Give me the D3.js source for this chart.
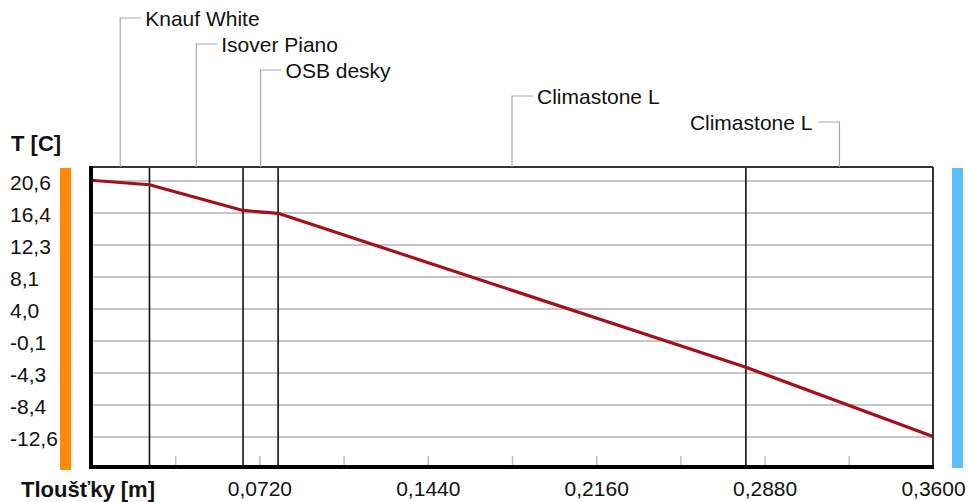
<!DOCTYPE html>
<html>
<head>
<meta charset="utf-8">
<script src="https://cdn.jsdelivr.net/npm/d3@7"></script>
<style>
  html, body { margin: 0; padding: 0; background: #fff; }
  svg { display: block; }
  text { font-family: "Liberation Sans", Arial, sans-serif; fill: #111; }
</style>
</head>
<body>
<svg id="chart" width="968" height="502"></svg>
<script>
// Wall layers (interior -> exterior) and their thicknesses in metres
const layerNames = ["Knauf White", "Isover Piano", "OSB desky", "Climastone L", "Climastone L"];
const layerThickness = [0.025, 0.04, 0.015, 0.2, 0.08];
// Temperature at each layer boundary [C]
const boundaryTemps = [20.63, 20.05, 16.72, 16.35, -3.62, -12.58];

// Axis ticks
const yTickValues = [20.6, 16.45, 12.3, 8.15, 4.0, -0.15, -4.3, -8.45, -12.6];
const yTickLabels = ["20,6", "16,4", "12,3", "8,1", "4,0", "-0,1", "-4,3", "-8,4", "-12,6"];
const xTickValues = [0.072, 0.144, 0.216, 0.288, 0.36];
const xTickLabels = ["0,0720", "0,1440", "0,2160", "0,2880", "0,3600"];
const xMinorTicks = [0.036, 0.072, 0.108, 0.144, 0.18, 0.216, 0.252, 0.288, 0.324];

// Which side of its leader line each caption sits on
const captionSide = ["right", "right", "right", "right", "left"];

const svg = d3.select("#chart");
const L = 91, R = 933, T = 167, B = 467;

const x = d3.scaleLinear().domain([0, 0.36]).range([L, R]);
const y = d3.scaleLinear().domain([-16.54, 22.35]).range([B, T]);

// boundaries in metres
const bounds = [0];
layerThickness.forEach(t => bounds.push(+(bounds[bounds.length - 1] + t).toFixed(4)));

// side colour bars (interior warm / exterior cold)
svg.append("rect").attr("x", 60).attr("y", 168).attr("width", 11).attr("height", 302).attr("fill", "#ff8a05");
svg.append("rect").attr("x", 952).attr("y", 168).attr("width", 11).attr("height", 300).attr("fill", "#5cbdf7");

// horizontal grid
const grid = svg.append("g").attr("transform", `translate(${L},0)`)
  .call(d3.axisRight(y).tickValues(yTickValues).tickSize(R - L).tickFormat(""));
grid.select(".domain").remove();
grid.selectAll("line").attr("stroke", "#c6c6c6").attr("stroke-width", 2);

// minor x ticks inside the bottom of the plot
const minor = svg.append("g").attr("transform", `translate(0,${B})`)
  .call(d3.axisTop(x).tickValues(xMinorTicks).tickSize(11).tickFormat(""));
minor.select(".domain").remove();
minor.selectAll("line").attr("stroke", "#bdbdbd").attr("stroke-width", 1.5);

// layer boundaries
svg.append("g").selectAll("line").data(bounds.slice(1, -1)).join("line")
  .attr("x1", d => x(d)).attr("x2", d => x(d))
  .attr("y1", T).attr("y2", B)
  .attr("stroke", "#111").attr("stroke-width", 1.6);

// temperature profile
const profile = bounds.map((b, i) => [b, boundaryTemps[i]]);
svg.append("path").datum(profile)
  .attr("fill", "none").attr("stroke", "#a40f1b").attr("stroke-width", 3.2)
  .attr("stroke-linejoin", "round")
  .attr("d", d3.line().x(d => x(d[0])).y(d => y(d[1])));

// frame
svg.append("line").attr("x1", L).attr("x2", R).attr("y1", T).attr("y2", T).attr("stroke", "#333").attr("stroke-width", 2);
svg.append("line").attr("x1", R).attr("x2", R).attr("y1", T).attr("y2", B).attr("stroke", "#333").attr("stroke-width", 2);
svg.append("line").attr("x1", L).attr("x2", L).attr("y1", T - 1).attr("y2", B + 2).attr("stroke", "#000").attr("stroke-width", 4);
svg.append("line").attr("x1", L - 2).attr("x2", R + 1).attr("y1", B).attr("y2", B).attr("stroke", "#000").attr("stroke-width", 4);

// y tick labels, left aligned
const yAxis = svg.append("g").attr("transform", "translate(10,0)")
  .call(d3.axisLeft(y).tickValues(yTickValues).tickSize(0)
    .tickFormat((d, i) => yTickLabels[i]));
yAxis.select(".domain").remove();
yAxis.selectAll("text")
  .attr("x", 0).attr("dy", "0.62em").attr("dx", 0)
  .attr("text-anchor", "start")
  .style("font-size", "21px").style("font-family", "Liberation Sans, Arial, sans-serif").attr("fill", "#111");
yAxis.selectAll("text").attr("transform", "translate(0,-4)");

// x tick labels
const xAxis = svg.append("g").attr("transform", `translate(0,${B})`)
  .call(d3.axisBottom(x).tickValues(xTickValues).tickSize(0)
    .tickFormat((d, i) => xTickLabels[i]));
xAxis.select(".domain").remove();
xAxis.selectAll("text")
  .attr("y", 29).attr("dy", "0")
  .style("font-size", "21px").style("font-family", "Liberation Sans, Arial, sans-serif").attr("fill", "#111");

// axis titles
svg.append("text").attr("x", 11).attr("y", 151).text("T [C]")
  .style("font-size", "22px").style("font-weight", "bold");
svg.append("text").attr("x", 21).attr("y", 497).text("Tloušťky [m]")
  .style("font-size", "22px").style("font-weight", "bold");

// layer captions with leader lines
const captionRowY = [18, 44, 70, 96, 122];
const cap = svg.append("g");
layerNames.forEach((name, i) => {
  const cx = x((bounds[i] + bounds[i + 1]) / 2);
  const cy = captionRowY[i];
  const left = captionSide[i] === "left";
  const hx = left ? cx - 21 : cx + 21;
  cap.append("path")
    .attr("d", `M${hx},${cy}H${cx}V${T}`)
    .attr("fill", "none").attr("stroke", "#a8a8a8").attr("stroke-width", 1.2);
  cap.append("text")
    .attr("x", left ? hx - 6 : hx + 4).attr("y", cy).attr("dy", "0.36em")
    .attr("text-anchor", left ? "end" : "start")
    .style("font-size", "21px")
    .text(name);
});
</script>
</body>
</html>
